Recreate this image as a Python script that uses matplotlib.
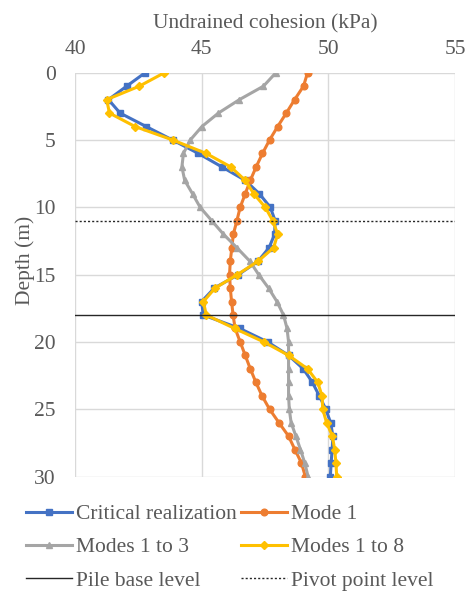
import matplotlib.pyplot as plt

# Depth (m) of each sample
depth = list(range(0, 31))

# Undrained cohesion profiles (kPa)
critical = [42.77, 42.04, 41.32, 41.78, 42.81, 43.85, 44.87, 45.80, 46.72, 47.28,
            47.71, 47.90, 47.88, 47.66, 47.23, 46.45, 45.50, 45.00, 45.06, 46.50,
            47.60, 48.43, 49.01, 49.37, 49.64, 49.90, 50.09, 50.18, 50.15, 50.11,
            50.08]
mode_1 = [49.18, 49.02, 48.67, 48.34, 48.00, 47.68, 47.40, 47.15, 46.92, 46.72,
          46.52, 46.39, 46.25, 46.19, 46.13, 46.10, 46.13, 46.18, 46.24, 46.32,
          46.52, 46.72, 46.92, 47.14, 47.38, 47.68, 48.05, 48.43, 48.68, 48.94,
          49.09]
modes_1_3 = [47.93, 47.44, 46.49, 45.66, 45.01, 44.55, 44.28, 44.22, 44.33, 44.64,
             44.94, 45.40, 45.86, 46.39, 46.90, 47.25, 47.64, 47.97, 48.23, 48.37,
             48.43, 48.43, 48.43, 48.43, 48.43, 48.46, 48.53, 48.72, 48.90, 49.07,
             49.20]
modes_1_8 = [43.53, 42.54, 41.25, 41.36, 42.37, 43.86, 45.18, 46.15, 46.72, 47.06,
             47.51, 47.81, 48.00, 47.84, 47.23, 46.41, 45.53, 45.07, 45.18, 46.30,
             47.45, 48.43, 49.18, 49.58, 49.75, 49.78, 49.93, 50.16, 50.25, 50.30,
             50.33]

pile_base = 18
pivot_point = 11

plt.rcParams['font.family'] = ['Liberation Serif', 'DejaVu Serif']
text_col = '#595959'
grid_col = '#d9d9d9'
fs = 15.5

fig = plt.figure(figsize=(4.66, 5.94), dpi=100)
ax = fig.add_axes([75 / 466, 1 - 476.5 / 594, 380 / 466, 403.8 / 594])

lw = 2.2
ax.plot(critical, depth, color='#4472C4', lw=lw, marker='s', ms=4.5,
        label='Critical realization', zorder=3)
ax.plot(mode_1, depth, color='#ED7D31', lw=lw, marker='o', ms=4.8,
        label='Mode 1', zorder=3)
ax.plot(modes_1_3, depth, color='#A5A5A5', lw=lw, marker='^', ms=4.8,
        label='Modes 1 to 3', zorder=3)
ax.plot(modes_1_8, depth, color='#FFC000', lw=lw, marker='D', ms=3.6,
        label='Modes 1 to 8', zorder=3)
ax.axhline(pile_base, color='#262626', lw=1.0, label='Pile base level', zorder=4)
ax.axhline(pivot_point, color='#262626', lw=1.0, ls=(0, (1.5, 1.5)),
           label='Pivot point level', zorder=4)

ax.set_xlim(40, 55)
ax.set_ylim(30, 0)
ax.set_xticks([40, 45, 50, 55])
ax.set_yticks(range(0, 31, 5))
ax.xaxis.tick_top()
ax.xaxis.set_label_position('top')
ax.grid(color=grid_col, lw=1.0, zorder=0)
ax.set_axisbelow(True)
for s in ax.spines.values():
    s.set_visible(False)
ax.tick_params(axis='both', length=0, labelsize=fs, labelcolor=text_col)
ax.tick_params(axis='x', pad=10)
ax.tick_params(axis='y', pad=14)
ax.set_xlabel('Undrained cohesion (kPa)', fontsize=fs, color=text_col, labelpad=8)
ax.set_ylabel('Depth (m)', fontsize=fs, color=text_col)
ax.yaxis.set_label_coords(-0.105, 0.535)

h, l = ax.get_legend_handles_labels()
order = [0, 2, 4, 1, 3, 5]
fig.legend([h[i] for i in order], [l[i] for i in order], ncol=2,
           loc='upper left', bbox_to_anchor=(26 / 466, 1 - 504 / 594),
           frameon=False, fontsize=fs, labelcolor=text_col, borderpad=0,
           borderaxespad=0, handlelength=2.13, handletextpad=0.19,
           columnspacing=0.2, labelspacing=0.62, numpoints=1)

fig.savefig('out.png', dpi=100)
